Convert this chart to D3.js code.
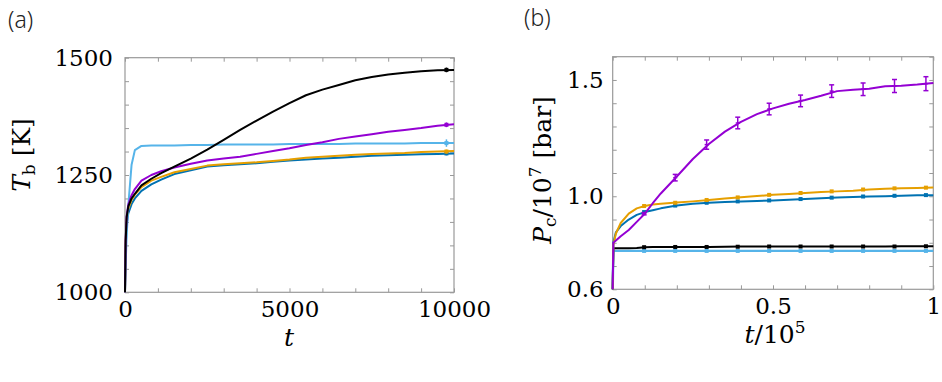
<!DOCTYPE html>
<html><head><meta charset="utf-8">
<script src="https://cdn.jsdelivr.net/npm/d3@7"></script>
<style>
html,body{margin:0;padding:0;background:#fff;}
svg{display:block;}
.tick text{font-family:"DejaVu Serif",serif;font-size:23px;fill:#000;}
</style></head>
<body><svg id="c" width="942" height="382"></svg>
<script>
// ---------- Panel (a): T_b vs t ----------
const tA = [0,20,50,100,200,300,500,800,1100,1500,2000,2500,3000,3500,4000,4500,5000,5500,6000,6500,7000,7500,8000,8500,9000,9500,10000];
const blackA  = [1000,1110,1160,1183,1200,1210,1228,1242,1254,1268,1285,1304,1325,1346,1366,1385,1403,1420,1432,1442,1452,1459,1464,1468,1471,1473,1474];
const purpleA = [1000,1112,1162,1187,1207,1220,1238,1250,1258,1266,1274,1281,1285,1289,1295,1301,1307,1314,1320,1327,1332,1337,1342,1346,1350,1355,1358];
const lightA  = [1000,1060,1120,1185,1272,1303,1312,1313,1313,1313,1314,1314,1315,1315,1315,1315,1316,1316,1316,1316,1317,1317,1317,1317,1318,1318,1318];
const orangeA = [1000,1105,1155,1178,1197,1208,1224,1238,1246,1256,1263,1270,1273,1275,1277,1280,1283,1287,1289,1291,1293,1295,1296,1297,1299,1300,1301];
const blueA   = [1000,1095,1145,1168,1188,1200,1216,1230,1240,1252,1260,1268,1271,1273,1275,1278,1281,1283,1285,1287,1289,1291,1292,1293,1294,1295,1296];
const markTA = 9770;
const markValsA = {black:1474, purple:1357, light:1318, orange:1300, blue:1296};
const markErrA = {black:5, purple:5, light:8, orange:4, blue:4};
const xTicksA = [0,1000,2000,3000,4000,5000,6000,7000,8000,9000,10000];
const xLabelsA = {0:"0",5000:"5000",10000:"10000"};
const yTicksA = [1000,1050,1100,1150,1200,1250,1300,1350,1400,1450,1500];
const yLabelsA = {1000:"1000",1250:"1250",1500:"1500"};

// ---------- Panel (b): P_c vs t/10^5 ----------
const uB = [0,0.002,0.01,0.025,0.05,0.075,0.1,0.125,0.15,0.2,0.25,0.3,0.35,0.4,0.45,0.5,0.55,0.6,0.65,0.7,0.75,0.8,0.85,0.9,0.95,1.0];
const purpleB = [0.6,0.80,0.81,0.828,0.855,0.89,0.925,0.97,1.012,1.085,1.16,1.225,1.278,1.32,1.353,1.378,1.398,1.414,1.432,1.452,1.458,1.462,1.473,1.475,1.48,1.487];
const orangeB = [0.6,0.79,0.84,0.885,0.925,0.948,0.958,0.965,0.968,0.973,0.978,0.984,0.99,0.996,1.001,1.006,1.01,1.014,1.018,1.021,1.024,1.029,1.032,1.034,1.036,1.038];
const blueB   = [0.6,0.80,0.845,0.872,0.9,0.92,0.932,0.94,0.948,0.96,0.968,0.972,0.975,0.978,0.98,0.982,0.985,0.988,0.991,0.995,0.997,0.999,1.0,1.002,1.004,1.004];
const blackB  = [0.6,0.777,0.777,0.777,0.777,0.778,0.781,0.782,0.782,0.782,0.782,0.782,0.783,0.784,0.784,0.784,0.784,0.784,0.784,0.784,0.784,0.784,0.784,0.785,0.785,0.785];
const lightB  = [0.6,0.765,0.765,0.765,0.765,0.765,0.765,0.765,0.765,0.765,0.765,0.765,0.765,0.765,0.765,0.765,0.765,0.765,0.765,0.765,0.765,0.765,0.765,0.765,0.765,0.765];
const markU = [0.098,0.195,0.293,0.39,0.488,0.586,0.683,0.781,0.879,0.977];
const markPurpleB = [0.925,1.08,1.222,1.315,1.375,1.41,1.452,1.46,1.474,1.484];
const errPurpleB  = [0.005,0.014,0.02,0.025,0.025,0.025,0.027,0.027,0.028,0.03];
const markOrangeB = [0.958,0.972,0.984,0.995,1.006,1.014,1.021,1.029,1.034,1.037];
const markBlueB   = [0.932,0.96,0.972,0.978,0.982,0.988,0.994,0.999,1.002,1.005];
const markBlackB  = [0.781,0.782,0.782,0.783,0.784,0.784,0.784,0.784,0.784,0.785];
const markLightB  = [0.765,0.765,0.765,0.765,0.765,0.765,0.765,0.765,0.765,0.765];
const xTicksB = [0,0.1,0.2,0.3,0.4,0.5,0.6,0.7,0.8,0.9,1.0];
const xLabelsB = {0:"0",0.5:"0.5",1:"1"};
const yTicksB = [0.6,0.7,0.8,0.9,1.0,1.1,1.2,1.3,1.4,1.5,1.6];
const yLabelsB = {0.6:"0.6",1:"1.0",1.5:"1.5"};

const COL = {black:"#000000", purple:"#9400D3", light:"#56B4E9", orange:"#E69F00", blue:"#0072B2"};
const FRAME = "#999999";

const svg = d3.select("#c");

function frame(g, x, y, xT, xL, yT, yL, padX, padY){
  const lab = (m) => (d) => { const k = Object.keys(m).find(k => Math.abs(+k - d) < 1e-9); return k !== undefined ? m[k] : ""; };
  const [x0,x1] = x.range(), [y0,y1] = y.range();
  g.append("g").attr("transform",`translate(0,${y0})`)
    .call(d3.axisBottom(x).tickValues(xT).tickSize(-4).tickPadding(padX).tickFormat(lab(xL)));
  g.append("g").attr("transform",`translate(0,${y1})`)
    .call(d3.axisTop(x).tickValues(xT).tickSize(-4).tickFormat(""));
  g.append("g").attr("transform",`translate(${x0},0)`)
    .call(d3.axisLeft(y).tickValues(yT).tickSize(-4).tickPadding(padY).tickFormat(lab(yL)));
  g.append("g").attr("transform",`translate(${x1},0)`)
    .call(d3.axisRight(y).tickValues(yT).tickSize(-4).tickFormat(""));
  g.selectAll(".domain").remove();
  g.selectAll(".tick line").attr("stroke",FRAME).attr("stroke-width",1);
  g.append("rect").attr("x",x0).attr("y",y1).attr("width",x1-x0).attr("height",y0-y1)
    .attr("fill","none").attr("stroke",FRAME).attr("stroke-width",1.2);
}

// ---- Panel a ----
const xa = d3.scaleLinear().domain([0,10000]).range([125,454]);
const ya = d3.scaleLinear().domain([1000,1500]).range([292.3,57.7]);
const ga = svg.append("g");
frame(ga, xa, ya, xTicksA, xLabelsA, yTicksA, yLabelsA, 8, 12);
const lineA = d3.line().x((d,i)=>xa(tA[i])).y(d=>ya(d));
[["blue",blueA],["orange",orangeA],["light",lightA],["purple",purpleA],["black",blackA]].forEach(([k,arr])=>{
  ga.append("path").datum(arr).attr("d",lineA).attr("fill","none")
    .attr("stroke",COL[k]).attr("stroke-width",2).attr("stroke-linejoin","round");
  const v = markValsA[k], e = markErrA[k];
  ga.append("line").attr("x1",xa(markTA)).attr("x2",xa(markTA)).attr("y1",ya(v-e)).attr("y2",ya(v+e))
    .attr("stroke",COL[k]).attr("stroke-width",1.5);
  ga.append("rect").attr("x",xa(markTA)-2).attr("y",ya(v)-2).attr("width",4).attr("height",4).attr("fill",COL[k]);
});

// ---- Panel b ----
const xb = d3.scaleLinear().domain([0,1]).range([612.7,933.3]);
const yb = d3.scaleLinear().domain([0.6,1.6]).range([289.3,56.7]);
const gb = svg.append("g");
frame(gb, xb, yb, xTicksB, xLabelsB, yTicksB, yLabelsB, 8, 9);
const lineB = d3.line().x((d,i)=>xb(uB[i])).y(d=>yb(d));
const seriesB = [["light",lightB,markLightB,2.4],["black",blackB,markBlackB,2],["blue",blueB,markBlueB,2],["orange",orangeB,markOrangeB,2],["purple",purpleB,markPurpleB,2]];
seriesB.forEach(([k,arr,marks,w])=>{
  gb.append("path").datum(arr).attr("d",lineB).attr("fill","none")
    .attr("stroke",COL[k]).attr("stroke-width",w).attr("stroke-linejoin","round");
  if(k==="purple"){
    marks.forEach((v,i)=>{
      const x = xb(markU[i]), e = errPurpleB[i];
      gb.append("line").attr("x1",x).attr("x2",x).attr("y1",yb(v-e)).attr("y2",yb(v+e)).attr("stroke",COL[k]).attr("stroke-width",1.5);
      [v-e,v+e].forEach(c=>gb.append("line").attr("x1",x-2.5).attr("x2",x+2.5).attr("y1",yb(c)).attr("y2",yb(c)).attr("stroke",COL[k]).attr("stroke-width",1.5));
      gb.append("line").attr("x1",x-2).attr("x2",x+2).attr("y1",yb(v)).attr("y2",yb(v)).attr("stroke",COL[k]).attr("stroke-width",1.5);
    });
  } else {
    marks.forEach((v,i)=>{
      gb.append("rect").attr("x",xb(markU[i])-2).attr("y",yb(v)-2).attr("width",4).attr("height",4).attr("fill",COL[k]);
    });
  }
});

// ---- Labels ----
const serif = "'DejaVu Serif', serif";
svg.append("text").attr("x",8).attr("y",28).attr("font-family","'Noto Sans', 'Open Sans', sans-serif")
  .attr("font-weight",300).attr("font-size",23).attr("fill","#222").text("(a)");
svg.append("text").attr("x",524).attr("y",26).attr("font-family","'Noto Sans', 'Open Sans', sans-serif")
  .attr("font-weight",300).attr("font-size",23).attr("fill","#222").text("(b)");

svg.append("text").attr("x",289).attr("y",346).attr("text-anchor","middle")
  .attr("font-family",serif).attr("font-size",25).attr("font-style","italic").text("t");
const yla = svg.append("text").attr("transform","translate(30,155) rotate(-90)").attr("text-anchor","middle")
  .attr("font-family",serif).attr("font-size",25);
yla.append("tspan").attr("font-style","italic").text("T");
yla.append("tspan").attr("font-size",17).attr("dy",5).text("b");
yla.append("tspan").attr("dy",-5).text(" [K]");

const xlb = svg.append("text").attr("x",775).attr("y",343).attr("text-anchor","middle")
  .attr("font-family",serif).attr("font-size",25);
xlb.append("tspan").attr("font-style","italic").text("t");
xlb.append("tspan").text("/10");
xlb.append("tspan").attr("font-size",17).attr("dy",-10).text("5");
const ylb = svg.append("text").attr("transform","translate(551,170) rotate(-90)").attr("text-anchor","middle")
  .attr("font-family",serif).attr("font-size",25);
ylb.append("tspan").attr("font-style","italic").text("P");
ylb.append("tspan").attr("font-size",17).attr("dy",5).text("c");
ylb.append("tspan").attr("dy",-5).text("/10");
ylb.append("tspan").attr("font-size",17).attr("dy",-10).text("7");
ylb.append("tspan").attr("dy",10).text(" [bar]");
</script></body></html>
